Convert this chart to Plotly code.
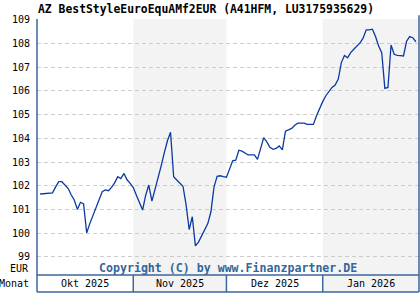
import pandas as pd
import plotly.graph_objects as go

title_text = "AZ BestStyleEuroEquAMf2EUR (A41HFM, LU3175935629)"
start_date = "2025-10-02"
values = [
    101.65, 101.66, 101.68, 101.69, 101.70, 101.95, 102.17, 102.17, 102.03, 101.89,
    101.62, 101.40, 101.00, 101.30, 101.23, 100.01, 100.40, 100.75, 101.10, 101.45,
    101.75, 101.82, 101.79, 101.93, 102.12, 102.38, 102.30, 102.52, 102.25, 102.10,
    101.92, 101.60, 101.30, 100.97, 101.60, 102.03, 101.35, 101.82, 102.31, 102.85,
    103.40, 103.90, 104.26, 102.38, 102.24, 102.12, 101.98, 101.20, 100.15, 100.69,
    99.46, 99.62, 99.88, 100.20, 100.40, 100.90, 101.95, 102.40, 102.42, 102.38,
    102.36, 102.70, 103.05, 103.08, 103.50, 103.46, 103.38, 103.30, 103.30, 103.30,
    103.11, 103.60, 104.03, 103.85, 103.62, 103.54, 103.58, 103.68, 103.51, 104.30,
    104.35, 104.42, 104.55, 104.64, 104.64, 104.64, 104.59, 104.59, 104.59, 104.95,
    105.27, 105.55, 105.80, 106.00, 106.15, 106.25, 106.50, 107.20, 107.50, 107.40,
    107.62, 107.76, 107.90, 108.03, 108.23, 108.58, 108.58, 108.61, 108.30, 107.90,
    107.62, 106.11, 106.15, 107.94, 107.55, 107.50, 107.49, 107.48, 108.10, 108.30,
    108.25, 108.08,
]
dates = pd.date_range(start_date, periods=len(values), freq="D")

month_starts = ["2025-10-01", "2025-11-01", "2025-12-01", "2026-01-01", "2026-02-01"]
month_labels = ["Okt 2025", "Nov 2025", "Dez 2025", "Jan 2026"]
shaded = [False, True, False, True]
y_ticks = [99, 100, 101, 102, 103, 104, 105, 106, 107, 108, 109]

W, H = 420, 300
ML, MR, MT, MB = 37, 1, 19, 25
plot_h = H - MT - MB
box_h = 17
by = -box_h / plot_h

FRAME = "#3a679c"
MONO = "DejaVu Sans Mono"

fig = go.Figure()
fig.add_trace(go.Scatter(x=dates, y=values, mode="lines",
                         line=dict(color="#0a3aa0", width=1.3),
                         hoverinfo="skip", showlegend=False))

shapes = []
for i, lab in enumerate(month_labels):
    if shaded[i]:
        shapes.append(dict(type="rect", xref="x", yref="paper",
                           x0=month_starts[i], x1=month_starts[i + 1], y0=by, y1=1,
                           fillcolor="#f3f3f3", line=dict(width=0), layer="below"))
# month box
shapes.append(dict(type="line", xref="paper", yref="paper", x0=0, x1=1, y0=0, y1=0,
                   line=dict(color=FRAME, width=1.5)))
shapes.append(dict(type="line", xref="paper", yref="paper", x0=0, x1=1, y0=by, y1=by,
                   line=dict(color=FRAME, width=1.5)))
shapes.append(dict(type="line", xref="paper", yref="paper", x0=0, x1=0, y0=by, y1=1,
                   line=dict(color=FRAME, width=1.5)))
shapes.append(dict(type="line", xref="paper", yref="paper", x0=1, x1=1, y0=by, y1=1.015,
                   line=dict(color=FRAME, width=1.5)))
for ms in month_starts[1:-1]:
    shapes.append(dict(type="line", xref="x", yref="paper", x0=ms, x1=ms, y0=by, y1=0,
                       line=dict(color=FRAME, width=1.5)))

annotations = []
for i, lab in enumerate(month_labels):
    mid = pd.Timestamp(month_starts[i]) + (pd.Timestamp(month_starts[i + 1]) - pd.Timestamp(month_starts[i])) / 2
    annotations.append(dict(x=mid, y=by / 2, xref="x", yref="paper", text=lab,
                            showarrow=False, font=dict(family=MONO, size=10, color="#000000"),
                            xanchor="center", yanchor="middle"))
annotations.append(dict(x=0, y=by / 2, xref="paper", yref="paper", text="Monat",
                        showarrow=False, font=dict(family=MONO, size=10, color="#000000"),
                        xanchor="right", yanchor="middle", xshift=-6))
annotations.append(dict(x=0, y=7 / plot_h, xref="paper", yref="paper", text="EUR",
                        showarrow=False, font=dict(family=MONO, size=10, color="#000000"),
                        xanchor="right", yanchor="middle", xshift=-6))
annotations.append(dict(x=0.5, y=7 / plot_h, xref="paper", yref="paper",
                        text="<b>Copyright (C) by www.Finanzpartner.DE</b>",
                        showarrow=False, font=dict(family=MONO, size=11.6, color="#336699"),
                        xanchor="center", yanchor="middle"))
annotations.append(dict(x=0, y=(MT - 9) / plot_h + 1, xref="paper", yref="paper",
                        text="<b>" + title_text + "</b>",
                        showarrow=False, font=dict(family=MONO, size=11.4, color="#000000"),
                        xanchor="left", yanchor="middle", xshift=-1))

fig.update_layout(
    width=W, height=H, autosize=False,
    margin=dict(l=ML, r=MR, t=MT, b=MB, pad=0),
    paper_bgcolor="#ffffff", plot_bgcolor="#ffffff",
    shapes=shapes, annotations=annotations,
    xaxis=dict(type="date", range=[month_starts[0], month_starts[-1]],
               showticklabels=False, showgrid=False, zeroline=False, showline=False,
               fixedrange=True),
    yaxis=dict(range=[98.23, 109.04], tickvals=y_ticks, ticktext=[str(t) for t in y_ticks],
               showgrid=True, gridcolor="#cccccc", griddash="4px,3px", gridwidth=1,
               zeroline=False, showline=False, ticks="", ticklabelstandoff=6,
               tickfont=dict(family=MONO, size=10, color="#000000"), fixedrange=True),
    showlegend=False,
)

fig.write_html("out.html")
